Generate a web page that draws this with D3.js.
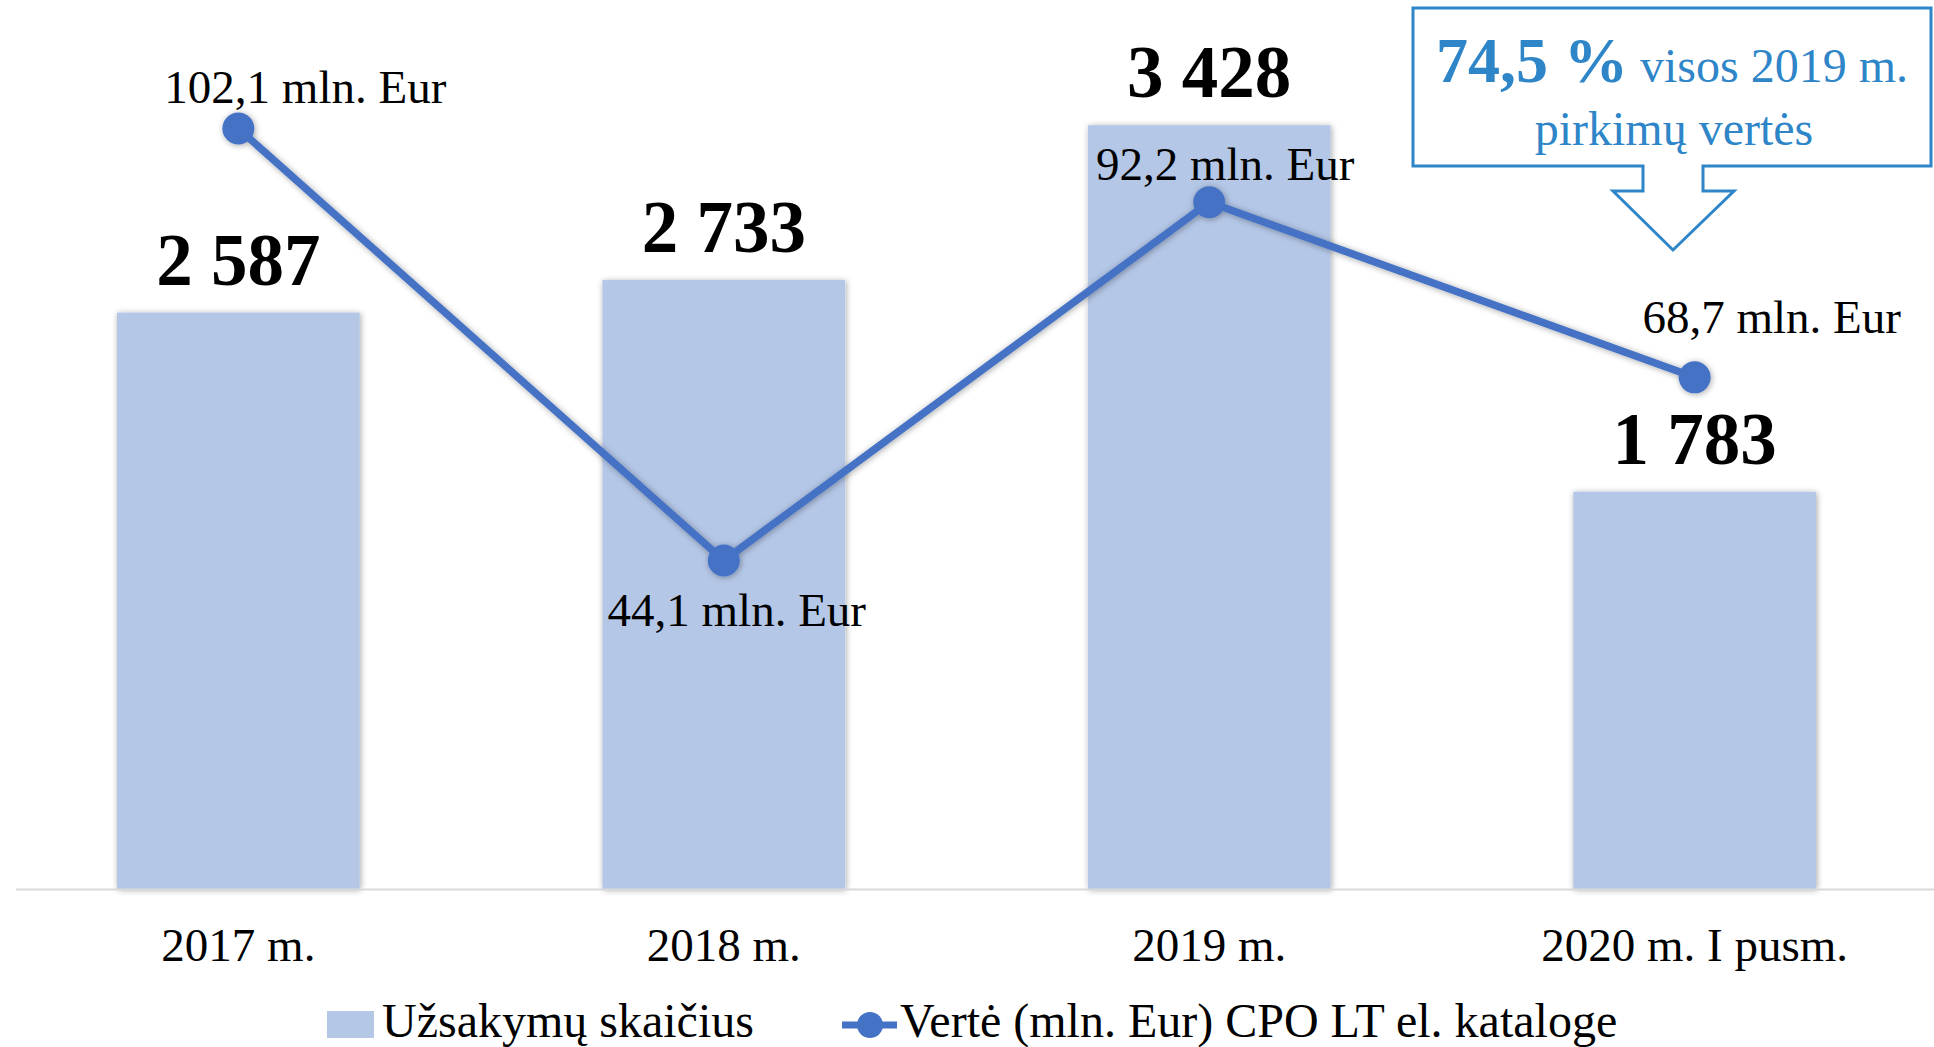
<!DOCTYPE html>
<html>
<head>
<meta charset="utf-8">
<script src="https://cdn.jsdelivr.net/npm/d3@7"></script>
<style>
  body { margin: 0; background: #fff; }
  text { font-family: "Liberation Serif", "Times New Roman", serif; }
</style>
</head>
<body>
<div id="myChart"></div>
<script>
// data
let years = ["2017 m.", "2018 m.", "2019 m.", "2020 m. I pusm."];
let orders = [2587, 2733, 3428, 1783];
let values = [102.1, 44.1, 92.2, 68.7];
let orderLabels = ["2 587", "2 733", "3 428", "1 783"];
let valueLabels = ["102,1 mln. Eur", "44,1 mln. Eur", "92,2 mln. Eur", "68,7 mln. Eur"];
let legendNames = ["Užsakymų skaičius", "Vertė (mln. Eur) CPO LT el. kataloge"];

// where each line label sits relative to its point
let valueLabelOffset = [[67, -26], [13, 65], [16, -22], [77, -44]];

let width = 1934, height = 1047, baseY = 889;
let barColor = "#b4c7e7", lineColor = "#4472c4", calloutColor = "#2e85c8";

let svg = d3.select("#myChart").append("svg")
  .attr("width", width)
  .attr("height", height);

let defs = svg.append("defs");
let shadow = defs.append("filter").attr("id", "shadow")
  .attr("x", "-20%").attr("y", "-20%").attr("width", "140%").attr("height", "140%");
shadow.append("feDropShadow")
  .attr("dx", 1).attr("dy", 1).attr("stdDeviation", 3)
  .attr("flood-color", "#000").attr("flood-opacity", 0.35);

let x = d3.scaleBand()
  .domain(years)
  .range([117, 1816])
  .paddingInner(0.5)
  .paddingOuter(0);
let y = d3.scaleLinear().domain([0, 3990]).range([baseY, 0]);
let y2 = d3.scaleLinear().domain([0, 119.36]).range([baseY, 0]);

let rows = years.map((yr, i) => ({ yr, n: orders[i], v: values[i], i }));

// bars
svg.selectAll(".bar")
  .data(rows)
  .enter()
  .append("rect")
  .attr("class", "bar")
  .attr("fill", barColor)
  .attr("filter", "url(#shadow)")
  .attr("x", d => x(d.yr))
  .attr("width", x.bandwidth())
  .attr("y", d => y(d.n))
  .attr("height", d => baseY - y(d.n));

// baseline
svg.append("line")
  .attr("x1", 16).attr("x2", width)
  .attr("y1", baseY + 0.5).attr("y2", baseY + 0.5)
  .attr("stroke", "#d9d9d9").attr("stroke-width", 2);

// x axis labels
let xAxis = svg.append("g")
  .attr("transform", "translate(0," + baseY + ")")
  .call(d3.axisBottom(x).tickSize(0));
xAxis.select(".domain").remove();
xAxis.selectAll("text")
  .attr("y", 72).attr("dy", 0)
  .attr("fill", "#000")
  .style("font-family", "'Liberation Serif', serif")
  .style("font-size", "47px");

// bar value labels
svg.selectAll(".barLabel")
  .data(rows)
  .enter()
  .append("text")
  .attr("class", "barLabel")
  .attr("x", d => x(d.yr) + x.bandwidth() / 2)
  .attr("y", d => y(d.n) - 28)
  .attr("text-anchor", "middle")
  .attr("font-size", 73)
  .attr("font-weight", "bold")
  .text(d => orderLabels[d.i]);

// line + markers
let cx = d => x(d.yr) + x.bandwidth() / 2;
let lineGroup = svg.append("g").attr("filter", "url(#shadow)");
lineGroup.append("path")
  .datum(rows)
  .attr("fill", "none")
  .attr("stroke", lineColor)
  .attr("stroke-width", 7.5)
  .attr("stroke-linejoin", "round")
  .attr("d", d3.line().x(cx).y(d => y2(d.v)));
lineGroup.selectAll("circle")
  .data(rows)
  .enter()
  .append("circle")
  .attr("cx", cx)
  .attr("cy", d => y2(d.v))
  .attr("r", 16)
  .attr("fill", lineColor);

// line value labels
svg.selectAll(".valLabel")
  .data(rows)
  .enter()
  .append("text")
  .attr("class", "valLabel")
  .attr("x", d => cx(d) + valueLabelOffset[d.i][0])
  .attr("y", d => y2(d.v) + valueLabelOffset[d.i][1])
  .attr("text-anchor", "middle")
  .attr("font-size", 47)
  .text(d => valueLabels[d.i]);

// callout
let callout = [[1413, 8], [1931, 8], [1931, 166], [1703, 166], [1703, 191], [1734, 191],
  [1673, 250], [1613, 191], [1643, 191], [1643, 166], [1413, 166]];
svg.append("path")
  .attr("d", d3.line()(callout) + "Z")
  .attr("fill", "#fff")
  .attr("stroke", calloutColor)
  .attr("stroke-width", 3);
let t1 = svg.append("text")
  .attr("x", 1672).attr("y", 82)
  .attr("text-anchor", "middle")
  .attr("fill", calloutColor);
t1.append("tspan").attr("font-size", 64).attr("font-weight", "bold").text("74,5 %");
t1.append("tspan").attr("font-size", 48).text(" visos 2019 m.");
svg.append("text")
  .attr("x", 1674).attr("y", 145)
  .attr("text-anchor", "middle")
  .attr("font-size", 48)
  .attr("fill", calloutColor)
  .text("pirkimų vertės");

// legend
let legend = svg.append("g");
legend.append("rect")
  .attr("x", 327).attr("y", 1011).attr("width", 47).attr("height", 27)
  .attr("fill", barColor);
legend.append("text")
  .attr("x", 382).attr("y", 1037)
  .attr("font-size", 48)
  .text(legendNames[0]);
legend.append("line")
  .attr("x1", 842).attr("x2", 897).attr("y1", 1025).attr("y2", 1025)
  .attr("stroke", lineColor).attr("stroke-width", 7);
legend.append("circle")
  .attr("cx", 870).attr("cy", 1025).attr("r", 13)
  .attr("fill", lineColor);
legend.append("text")
  .attr("x", 900).attr("y", 1037)
  .attr("font-size", 48)
  .text(legendNames[1]);
</script>
</body>
</html>
